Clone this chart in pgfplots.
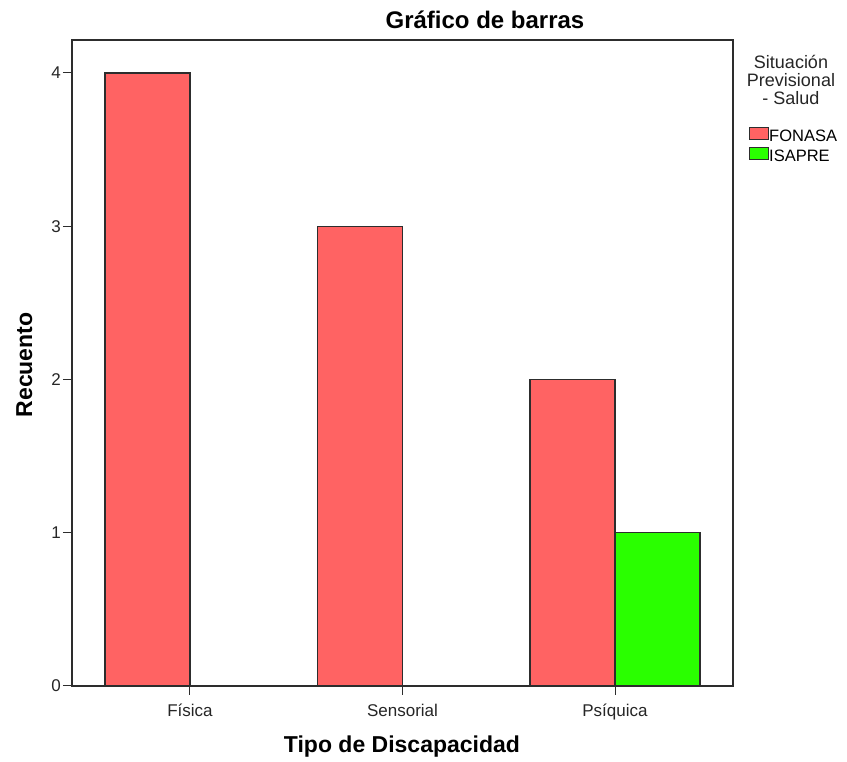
\documentclass[border=0pt]{standalone}
\usepackage{fontspec}
\setmainfont{Liberation Sans}
\usepackage{pgfplots}
\pgfplotsset{compat=1.18}
\definecolor{fonasa}{RGB}{255,99,99}
\definecolor{isapre}{RGB}{42,255,0}
\definecolor{axgray}{RGB}{45,45,45}
\begin{document}
\begin{tikzpicture}
\useasboundingbox (-72pt,-76pt) rectangle (775pt,686pt);
\fill[white] (-72pt,-76pt) rectangle (775pt,686pt);
\begin{axis}[
  scale only axis,
  width=661pt, height=646pt,
  xmin=-0.5553, xmax=2.5553,
  ymin=0, ymax=4.2153,
  axis line style={axgray, line width=1.2pt},
  xtick={0,1,2},
  xticklabels={Física,Sensorial,Psíquica},
  ytick={0,1,2,3,4},
  xtick pos=lower, ytick pos=left,
  tick align=outside,
  major tick length=9pt,
  tick style={axgray, line width=1pt},
  /pgf/number format/assume math mode=true,
  ticklabel style={font=\fontsize{17}{20}\selectfont, text=black!85, inner sep=0pt},
  xticklabel style={anchor=base, yshift=-22pt},
  yticklabel style={anchor=east, xshift=-2pt},
  title={\textbf{Gráfico de barras}},
  title style={at={(axis description cs:0.6248,1.0186)}, anchor=base, yshift=-7pt, font=\fontsize{24}{28}\selectfont, inner sep=0pt},
  xlabel={\textbf{Tipo de Discapacidad}},
  xlabel style={at={(axis description cs:0.4992,-0.1037)}, anchor=base, font=\fontsize{23}{27}\selectfont, inner sep=0pt},
  ylabel={\textbf{Recuento}},
  ylabel style={at={(axis description cs:-0.0605,0.4969)}, anchor=base, rotate=0, font=\fontsize{23}{27}\selectfont, inner sep=0pt},
  ybar=0pt,
  bar width=0.4,
  legend cell align=left,
  legend style={draw=none, fill=none, at={(axis description cs:1,1)}, anchor=north west,
    xshift=16pt, yshift=-87pt, inner sep=0pt, row sep=0pt,
    font=\fontsize{16.5}{18}\selectfont,
    nodes={inner sep=0.5pt, text height=12pt, text depth=5pt},
    /tikz/every even column/.style={column sep=0.5pt}},
]
\addplot[fill=fonasa, draw=axgray, line width=1.3pt, bar shift=-0.2,
  legend image code/.code={\draw[fill=fonasa, draw=axgray, line width=1pt] (0pt,-1.5pt) rectangle (18.5pt,10.5pt);}]
  coordinates {(0,4) (1,3) (2,2)};
\addlegendentry{FONASA}
\addplot[fill=isapre, draw=axgray, line width=1.3pt, bar shift=0.2,
  legend image code/.code={\draw[fill=isapre, draw=axgray, line width=1pt] (0pt,-1.5pt) rectangle (18.5pt,10.5pt);}]
  coordinates {(2,1)};
\addlegendentry{ISAPRE}
\end{axis}
\begin{scope}[every node/.style={anchor=base, inner sep=0pt, font=\fontsize{18}{20}\selectfont, text=black!85}]
\node at (719pt,617pt) {Situación};
\node at (719pt,599pt) {Previsional};
\node at (719pt,581pt) {- Salud};
\end{scope}
\end{tikzpicture}
\end{document}
